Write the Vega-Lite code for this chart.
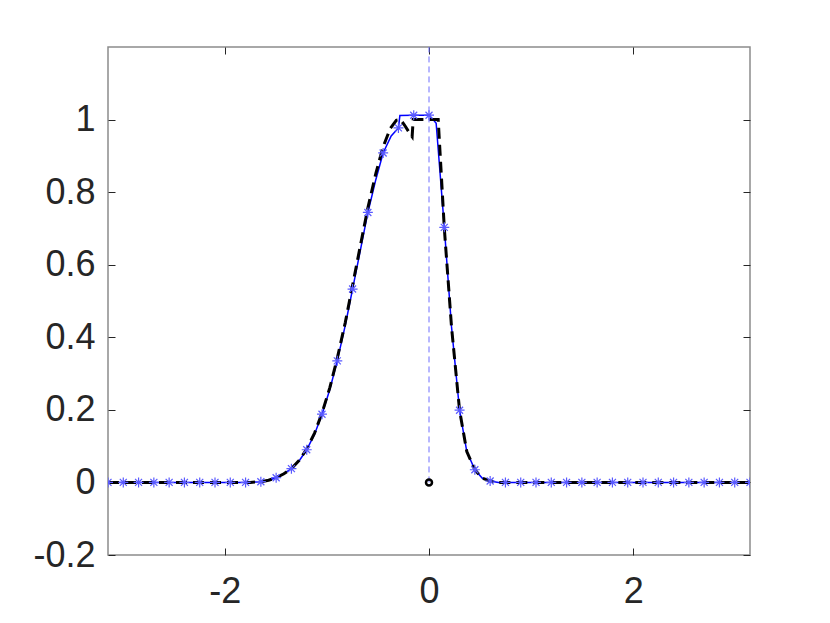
{
  "$schema": "https://vega.github.io/schema/vega-lite/v6.json",
  "autosize": "none",
  "padding": {"left": 108, "top": 47, "right": 80, "bottom": 68},
  "width": 642,
  "height": 508,
  "background": "white",
  "config": {
    "view": {"stroke": "#8c8c8c", "strokeWidth": 1.5},
    "axis": {
      "grid": false,
      "domain": false,
      "labelFont": "Liberation Sans",
      "labelFontSize": 36,
      "labelColor": "#262626",
      "tickColor": "#262626",
      "tickWidth": 1,
      "tickSize": -7,
      "title": null
    }
  },
  "datasets": {
    "blue": [
      {"x": -3.14159, "y": 0}, {"x": -1.75, "y": 0}, {"x": -1.70, "y": 0.001}, {"x": -1.646, "y": 0.002},
      {"x": -1.57, "y": 0.006}, {"x": -1.496, "y": 0.013}, {"x": -1.42, "y": 0.024}, {"x": -1.346, "y": 0.038},
      {"x": -1.27, "y": 0.060}, {"x": -1.197, "y": 0.090}, {"x": -1.12, "y": 0.133}, {"x": -1.047, "y": 0.188},
      {"x": -0.97, "y": 0.257}, {"x": -0.898, "y": 0.335}, {"x": -0.82, "y": 0.432}, {"x": -0.748, "y": 0.533},
      {"x": -0.67, "y": 0.642}, {"x": -0.598, "y": 0.744}, {"x": -0.52, "y": 0.835}, {"x": -0.449, "y": 0.908},
      {"x": -0.37, "y": 0.955}, {"x": -0.299, "y": 0.977}, {"x": -0.285, "y": 1.011}, {"x": -0.150, "y": 1.012},
      {"x": 0, "y": 1.012}, {"x": 0.04, "y": 1.0}, {"x": 0.07, "y": 0.99}, {"x": 0.15, "y": 0.703},
      {"x": 0.22, "y": 0.43}, {"x": 0.299, "y": 0.199}, {"x": 0.37, "y": 0.085}, {"x": 0.449, "y": 0.035},
      {"x": 0.52, "y": 0.012}, {"x": 0.598, "y": 0.004}, {"x": 0.68, "y": 0}, {"x": 3.14159, "y": 0}
    ],
    "black": [
      {"x": -3.14159, "y": 0}, {"x": -1.75, "y": 0}, {"x": -1.70, "y": 0.001}, {"x": -1.646, "y": 0.002},
      {"x": -1.57, "y": 0.006}, {"x": -1.496, "y": 0.013}, {"x": -1.42, "y": 0.024}, {"x": -1.346, "y": 0.038},
      {"x": -1.27, "y": 0.061}, {"x": -1.197, "y": 0.092}, {"x": -1.12, "y": 0.136}, {"x": -1.047, "y": 0.191},
      {"x": -0.97, "y": 0.262}, {"x": -0.898, "y": 0.342}, {"x": -0.82, "y": 0.44}, {"x": -0.748, "y": 0.543},
      {"x": -0.67, "y": 0.655}, {"x": -0.598, "y": 0.757}, {"x": -0.52, "y": 0.852}, {"x": -0.449, "y": 0.925},
      {"x": -0.38, "y": 0.975}, {"x": -0.32, "y": 0.998}, {"x": -0.28, "y": 1.0}, {"x": -0.24, "y": 0.985},
      {"x": -0.2, "y": 0.967}, {"x": -0.165, "y": 0.953}, {"x": -0.155, "y": 1.0}, {"x": 0.09, "y": 1.0},
      {"x": 0.15, "y": 0.70}, {"x": 0.22, "y": 0.43}, {"x": 0.299, "y": 0.199}, {"x": 0.37, "y": 0.085},
      {"x": 0.449, "y": 0.035}, {"x": 0.52, "y": 0.012}, {"x": 0.598, "y": 0.004}, {"x": 0.68, "y": 0},
      {"x": 3.14159, "y": 0}
    ],
    "markers": [
      {"x": -3.14159, "y": 0}, {"x": -2.99199, "y": 0}, {"x": -2.84239, "y": 0}, {"x": -2.69279, "y": 0},
      {"x": -2.54319, "y": 0}, {"x": -2.39359, "y": 0}, {"x": -2.24399, "y": 0}, {"x": -2.09440, "y": 0},
      {"x": -1.94480, "y": 0}, {"x": -1.79520, "y": 0}, {"x": -1.64560, "y": 0.002}, {"x": -1.49600, "y": 0.013},
      {"x": -1.34640, "y": 0.038}, {"x": -1.19680, "y": 0.090}, {"x": -1.04720, "y": 0.188}, {"x": -0.89760, "y": 0.335},
      {"x": -0.74800, "y": 0.533}, {"x": -0.59840, "y": 0.744}, {"x": -0.44880, "y": 0.908}, {"x": -0.29920, "y": 0.977},
      {"x": -0.14960, "y": 1.012}, {"x": 0, "y": 1.012}, {"x": 0.14960, "y": 0.703}, {"x": 0.29920, "y": 0.199},
      {"x": 0.44880, "y": 0.035}, {"x": 0.59840, "y": 0.004}, {"x": 0.74800, "y": 0}, {"x": 0.89760, "y": 0},
      {"x": 1.04720, "y": 0}, {"x": 1.19680, "y": 0}, {"x": 1.34640, "y": 0}, {"x": 1.49600, "y": 0},
      {"x": 1.64560, "y": 0}, {"x": 1.79520, "y": 0}, {"x": 1.94480, "y": 0}, {"x": 2.09440, "y": 0},
      {"x": 2.24399, "y": 0}, {"x": 2.39359, "y": 0}, {"x": 2.54319, "y": 0}, {"x": 2.69279, "y": 0},
      {"x": 2.84239, "y": 0}, {"x": 2.99199, "y": 0}, {"x": 3.14159, "y": 0}
    ]
  },
  "resolve": {"axis": {"x": "independent", "y": "independent"}},
  "layer": [
    {
      "data": {"name": "blue"},
      "mark": {"type": "line", "color": "#0000ff", "strokeWidth": 1.5, "clip": true},
      "encoding": {
        "x": {"field": "x", "type": "quantitative",
              "scale": {"domain": [-3.14159, 3.14159], "nice": false, "zero": false},
              "axis": {"orient": "bottom", "values": [-2, 0, 2], "labelPadding": 26, "labelExpr": "'' + datum.value"}},
        "y": {"field": "y", "type": "quantitative",
              "scale": {"domain": [-0.2, 1.2], "nice": false, "zero": false},
              "axis": {"orient": "left", "values": [-0.2, 0, 0.2, 0.4, 0.6, 0.8, 1], "labelPadding": 20, "labelExpr": "'' + datum.value"}}
      }
    },
    {
      "data": {"name": "black"},
      "mark": {"type": "line", "color": "#000000", "strokeWidth": 3, "strokeDash": [11, 6], "clip": true},
      "encoding": {
        "x": {"field": "x", "type": "quantitative",
              "axis": {"orient": "top", "values": [-2, 0, 2], "labels": false}},
        "y": {"field": "y", "type": "quantitative",
              "axis": {"orient": "right", "values": [-0.2, 0, 0.2, 0.4, 0.6, 0.8, 1], "labels": false}}
      }
    },
    {
      "data": {"name": "markers"},
      "mark": {"type": "point", "shape": "M -1 0 L 1 0 M 0 -1 L 0 1 M -0.7 -0.7 L 0.7 0.7 M -0.7 0.7 L 0.7 -0.7",
               "filled": false, "stroke": "#5a5aff", "strokeWidth": 1.2, "size": 100, "opacity": 1, "clip": true},
      "encoding": {
        "x": {"field": "x", "type": "quantitative", "axis": null},
        "y": {"field": "y", "type": "quantitative", "axis": null}
      }
    },
    {
      "data": {"values": [{"x": 0, "y": 0, "y2": 1.2}]},
      "mark": {"type": "rule", "color": "#6f6fff", "strokeWidth": 1, "strokeDash": [6, 4]},
      "encoding": {
        "x": {"field": "x", "type": "quantitative", "axis": null},
        "y": {"field": "y", "type": "quantitative", "axis": null},
        "y2": {"field": "y2"}
      }
    },
    {
      "data": {"values": [{"x": 0, "y": 0}]},
      "mark": {"type": "point", "shape": "circle", "filled": false, "stroke": "#000000", "strokeWidth": 2.5, "size": 36, "opacity": 1},
      "encoding": {
        "x": {"field": "x", "type": "quantitative", "axis": null},
        "y": {"field": "y", "type": "quantitative", "axis": null}
      }
    }
  ]
}
